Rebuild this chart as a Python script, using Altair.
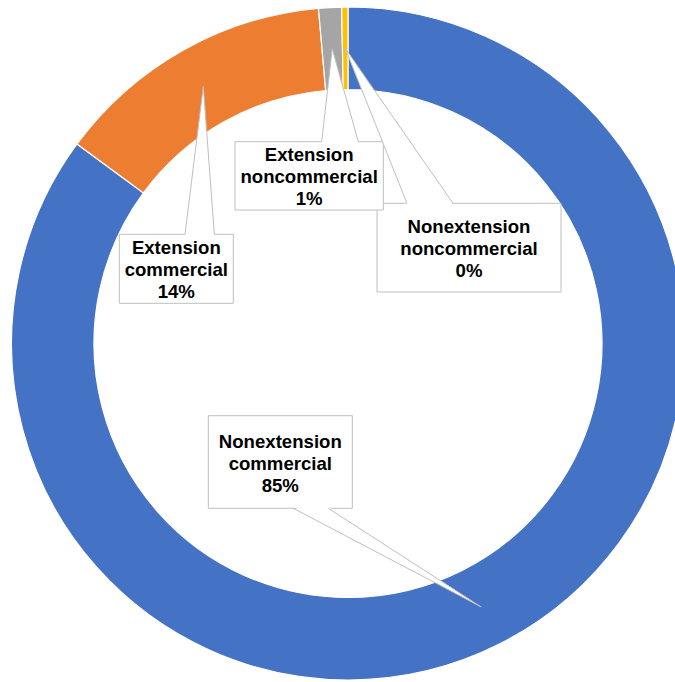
import math
import altair as alt
import pandas as pd

# ---- data ----
categories = ["Nonextension commercial", "Extension commercial",
              "Extension noncommercial", "Nonextension noncommercial"]
values = [85.1, 13.5, 1.1, 0.3]
colors = ["#4472C4", "#ED7D31", "#A5A5A5", "#FFC000"]

# ---- layout (pixels) ----
W, H = 675, 682
CX, CY = 348, 343.5
R_OUT, R_IN = 336.5, 254
R_TIP = (R_OUT + R_IN) / 2
LINE_H = 22
# label boxes: left, top, right, bottom, wedge-base left, wedge-base right (draw order)
box_layout = [
    ("Nonextension noncommercial", 377, 203.3, 561, 292, 407, 453),
    ("Extension noncommercial", 235, 141.7, 383.3, 210, 321.7, 358.3),
    ("Extension commercial", 119.3, 234.3, 233.3, 303.3, 185, 214.3),
    ("Nonextension commercial", 208.3, 415.7, 352.3, 508.3, 293.3, 328.3),
]
LINE_COLOR = "#BFBFBF"

# ---- derived tables ----
total = sum(values)
slices = pd.DataFrame({"cat": categories, "value": values, "ord": range(len(values))})

tips = {}
cum = 0.0
for c, v in zip(categories, values):
    mid = (cum + v / 2) / total * 2 * math.pi
    tips[c] = (CX + R_TIP * math.sin(mid), CY - R_TIP * math.cos(mid), v / total * 100)
    cum += v

box_rows, wedge_rows, side_rows, text_rows = [], [], [], []
for i, (c, l, t, r, b, bl, br) in enumerate(box_layout):
    tx, ty, pct = tips[c]
    box_rows.append({"cat": c, "i": i, "x": l, "x2": r, "y": t, "y2": b})
    base_y = t if ty < t else b
    inset = 1.5 if ty < t else -1.5
    wedge_rows += [
        {"cat": c, "y": ty, "x": tx, "x2": tx},
        {"cat": c, "y": base_y + inset, "x": bl, "x2": br},
    ]
    side_rows += [
        {"cat": c, "x": tx, "y": ty, "x2": bl, "y2": base_y},
        {"cat": c, "x": tx, "y": ty, "x2": br, "y2": base_y},
    ]
    lines = c.split(" ") + [f"{round(pct)}%"]
    first_y = (t + b) / 2 + 1.5 - LINE_H * (len(lines) - 1) / 2
    text_rows.append({"cat": c, "x": (l + r) / 2, "y": first_y, "label": "\n".join(lines)})

xs = alt.Scale(domain=[0, W], nice=False, zero=False)
ys = alt.Scale(domain=[0, H], nice=False, zero=False, reverse=True)

donut = alt.Chart(slices).mark_arc(
    outerRadius=R_OUT, innerRadius=R_IN, stroke="white", strokeWidth=1.2
).encode(
    theta=alt.Theta("value:Q", stack=True),
    order=alt.Order("ord:Q"),
    color=alt.Color("cat:N", scale=alt.Scale(domain=categories, range=colors), legend=None),
    x=alt.value(CX),
    y=alt.value(CY),
)

boxes = alt.Chart(pd.DataFrame(box_rows)).mark_rect(
    fill="white", stroke=LINE_COLOR, strokeWidth=1
).encode(
    x=alt.X("x:Q", scale=xs, axis=None),
    x2="x2:Q",
    y=alt.Y("y:Q", scale=ys, axis=None),
    y2="y2:Q",
    order=alt.Order("i:Q"),
)

wedges = alt.Chart(pd.DataFrame(wedge_rows)).mark_area(
    orient="horizontal", fill="white", opacity=1
).encode(
    y=alt.Y("y:Q", scale=ys, axis=None),
    x=alt.X("x:Q", scale=xs, axis=None),
    x2="x2:Q",
    detail="cat:N",
)

sides = alt.Chart(pd.DataFrame(side_rows)).mark_rule(
    color=LINE_COLOR, strokeWidth=1
).encode(
    x=alt.X("x:Q", scale=xs, axis=None),
    x2="x2:Q",
    y=alt.Y("y:Q", scale=ys, axis=None),
    y2="y2:Q",
)

texts = alt.Chart(pd.DataFrame(text_rows)).mark_text(
    font="Liberation Sans", fontWeight="bold", fontSize=18.6, color="#000000",
    lineBreak="\n", lineHeight=LINE_H, align="center", baseline="middle"
).encode(
    x=alt.X("x:Q", scale=xs, axis=None),
    y=alt.Y("y:Q", scale=ys, axis=None),
    text="label:N",
)

chart = alt.layer(donut, boxes, wedges, sides, texts).properties(
    width=W, height=H, padding=0, autosize="none", background="white"
).configure_view(stroke=None)

chart.save("out.html", embed_options={"renderer": "svg", "actions": False})
